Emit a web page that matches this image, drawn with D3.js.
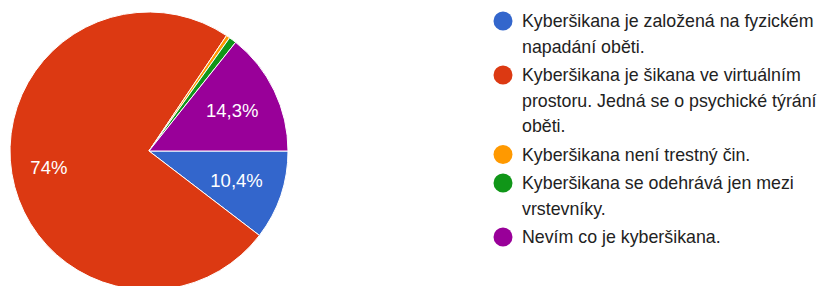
<!DOCTYPE html>
<html>
<head>
<meta charset="utf-8">
<script src="https://cdn.jsdelivr.net/npm/d3@7"></script>
<style>
  html, body { margin: 0; padding: 0; background: #fff; }
  body { width: 831px; height: 286px; overflow: hidden; }
  svg { display: block; font-family: "Liberation Sans", Arial, sans-serif; }
</style>
</head>
<body>
<div id="chart"></div>
<script>
// answers (legend text, one array entry per wrapped line)
const categories = [
  ["Kyberšikana je založená na fyzickém", "napadání oběti."],
  ["Kyberšikana je šikana ve virtuálním", "prostoru. Jedná se o psychické týrání", "oběti."],
  ["Kyberšikana není trestný čin."],
  ["Kyberšikana se odehrává jen mezi", "vrstevníky."],
  ["Nevím co je kyberšikana."]
];
// number of responses
const counts = [24, 171, 1, 2, 33];
const colors = ["#3366cc", "#dc3912", "#ff9900", "#109618", "#990099"];

const W = 831, H = 286;
const cx = 149, cy = 151, radius = 139;

const svg = d3.select("#chart")
  .append("svg")
  .attr("width", W)
  .attr("height", H);

const total = d3.sum(counts);
const data = counts.map((v, i) => ({ i, value: v, pct: v / total }));

// pie starts at 3 o'clock and runs clockwise
const pie = d3.pie()
  .value(d => d.value)
  .sort(null)
  .startAngle(Math.PI / 2)
  .endAngle(Math.PI / 2 + 2 * Math.PI);

const arc = d3.arc().innerRadius(0).outerRadius(radius);

const g = svg.append("g").attr("transform", `translate(${cx},${cy})`);

const arcs = pie(data);

g.selectAll("path")
  .data(arcs)
  .join("path")
  .attr("d", arc)
  .attr("fill", d => colors[d.data.i])
  .attr("stroke", "#fff")
  .attr("stroke-width", 1);

// percent labels (hidden on tiny slices)
const fmt = p => {
  const v = Math.round(p * 1000) / 10;
  return (Number.isInteger(v) ? String(v) : v.toFixed(1).replace(".", ",")) + "%";
};

g.selectAll("text.lbl")
  .data(arcs.filter(d => d.data.pct > 0.05))
  .join("text")
  .attr("class", "lbl")
  .attr("transform", d => {
    const lr = radius * (d.data.pct > 0.5 ? 0.73 : 0.665);
    const c = d3.arc().innerRadius(lr).outerRadius(lr).centroid(d);
    return `translate(${c[0]},${c[1]})`;
  })
  .attr("text-anchor", "middle")
  .attr("dy", "0.35em")
  .attr("fill", "#fff")
  .style("font-size", "18.5px")
  .text(d => fmt(d.data.pct));

// legend
const lineH = 25.5, gap = 3;
const legend = svg.append("g").attr("transform", "translate(503,21)");
let y = 0;
categories.forEach((lines, i) => {
  const item = legend.append("g").attr("transform", `translate(0,${y})`);
  item.append("circle")
    .attr("r", 9.5)
    .attr("fill", colors[i]);
  item.selectAll("text")
    .data(lines)
    .join("text")
    .attr("x", 19)
    .attr("y", (d, j) => j * lineH)
    .attr("dy", "0.35em")
    .attr("fill", "#222")
    .style("font-size", "17.8px")
    .text(d => d);
  y += lines.length * lineH + gap;
});
</script>
</body>
</html>
